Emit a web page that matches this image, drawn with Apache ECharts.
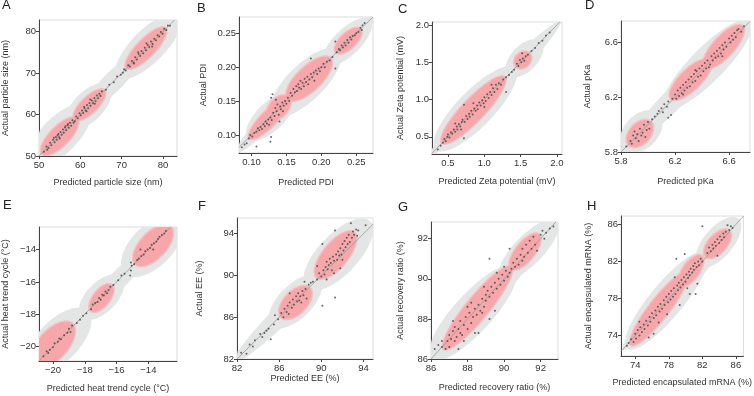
<!DOCTYPE html>
<html>
<head>
<meta charset="utf-8">
<script src="https://cdn.jsdelivr.net/npm/echarts@6/dist/echarts.min.js"></script>
<style>
html,body{margin:0;padding:0;background:#fff;}
#chart{width:754px;height:396px;}
</style>
</head>
<body>
<div id="chart"></div>
<script>
// panel titles and axis names
var letters = ['A', 'B', 'C', 'D', 'E', 'F', 'G', 'H'];
var xNames = ['Predicted particle size (nm)', 'Predicted PDI', 'Predicted Zeta potential (mV)', 'Predicted pKa',
	'Predicted heat trend cycle (°C)', 'Predicted EE (%)', 'Predicted recovery ratio (%)', 'Predicted encapsulated mRNA (%)'];
var yNames = ['Actual particle size (nm)', 'Actual PDI', 'Actual Zeta potential (mV)', 'Actual pKa',
	'Actual heat trend cycle (°C)', 'Actual EE (%)', 'Actual recovery ratio (%)', 'Actual encapsulated mRNA (%)'];

// axis ranges and tick labels
var xRanges = [[50, 83.4], [0.082, 0.274], [0.28, 2.07], [5.8, 6.755], [-20.88, -12.2], [82, 94.9], [86, 92.95], [72.3, 86.9]];
var yRanges = [[50, 82.8], [0.0735, 0.274], [0.27, 2.04], [5.8, 6.758], [-20.9, -12.6], [82, 95.5], [86, 92.83], [71.8, 86.9]];
var xTicks = [[50, 60, 70, 80], [0.10, 0.15, 0.20, 0.25], [0.5, 1.0, 1.5, 2.0], [5.8, 6.2, 6.6], [-20, -18, -16, -14], [82, 86, 90, 94], [86, 88, 90, 92], [74, 78, 82, 86]];
var yTicks = [[50, 60, 70, 80], [0.10, 0.15, 0.20, 0.25], [0.5, 1.0, 1.5, 2.0], [5.8, 6.2, 6.6], [-20, -18, -16, -14], [82, 86, 90, 94], [86, 88, 90, 92], [74, 78, 82, 86]];
var decimals = [0, 2, 1, 1, 0, 0, 0, 0];

// [predicted, actual]
var aPoints = [[51.2,51.0],[51.8,52.3],[52.3,51.9],[52.7,53.2],[53.0,52.6],[53.4,53.9],[53.8,53.3],[54.1,54.6],[54.3,53.9],[54.7,55.3],[54.9,54.5],[55.2,55.8],[55.5,55.1],[55.8,56.4],[56.0,55.6],[56.3,56.9],[56.6,56.2],[56.9,57.4],[57.2,56.8],[57.5,58.0],[57.8,57.3],[58.1,58.6],[58.4,58.0],[53.6,54.4],[55.0,54.2],[56.4,57.2],[52.0,51.5],[54.5,55.0],[57.0,57.7],[58.7,58.4],
	[59.0,59.5],[59.4,59.1],[59.8,60.3],[60.1,59.8],[60.4,61.0],[60.7,60.4],[61.0,61.6],[61.3,61.0],[61.6,62.3],[61.9,61.5],[62.2,62.8],[62.5,62.1],[62.8,63.4],[63.1,62.7],[63.4,64.0],[63.7,63.2],[64.0,64.6],[64.3,63.9],[64.6,65.0],[64.9,64.5],[65.2,65.6],[60.9,61.9],[62.4,63.6],[63.5,62.6],[61.5,60.8],
	[66.2,66.0],[67.0,67.2],[68.1,67.8],[68.9,69.2],[69.8,69.6],[70.6,70.9],[71.0,70.6],[70.3,70.1],
	[71.6,71.9],[72.0,71.6],[72.5,72.9],[72.9,72.5],[73.3,73.8],[73.7,73.3],[74.1,74.6],[74.5,74.1],[74.8,75.3],[75.2,74.8],[75.6,76.1],[75.9,75.5],[76.3,76.8],[76.7,76.3],[77.1,77.6],[77.5,77.0],[77.9,78.3],[78.3,77.9],[78.7,79.1],[79.1,78.8],[79.5,79.9],[79.9,79.5],[80.3,80.7],[80.8,80.4],[81.2,81.5],[81.7,81.4],[74.0,75.0],[76.0,77.2],[77.4,76.4],[73.0,72.3]];
var bPoints = [[0.086,0.082],[0.09,0.086],[0.093,0.088],[0.096,0.095],[0.098,0.1],[0.101,0.098],[0.104,0.103],[0.107,0.105],[0.107,0.083],[0.109,0.11],[0.111,0.107],[0.113,0.112],[0.115,0.109],[0.117,0.116],[0.119,0.113],[0.12,0.12],[0.122,0.117],[0.124,0.123],[0.125,0.115],[0.127,0.09],[0.128,0.097],[0.127,0.126],[0.129,0.122],[0.13,0.16],[0.128,0.155],[0.131,0.133],[0.133,0.128],[0.134,0.14],[0.135,0.152],[0.136,0.135],[0.137,0.145],[0.139,0.13],[0.14,0.12],[0.141,0.142],[0.142,0.138],[0.144,0.148],[0.145,0.135],[0.146,0.143],[0.148,0.15],[0.15,0.146],[0.152,0.155],[0.154,0.15],[0.156,0.162],[0.158,0.158],[0.16,0.168],[0.162,0.163],[0.164,0.172],[0.165,0.165],[0.167,0.175],[0.168,0.17],[0.17,0.18],[0.171,0.168],[0.173,0.177],[0.175,0.172],[0.176,0.183],[0.178,0.178],[0.18,0.186],[0.181,0.175],[0.183,0.182],[0.185,0.213],[0.185,0.19],[0.187,0.185],[0.189,0.192],[0.19,0.18],[0.192,0.195],[0.194,0.19],[0.196,0.198],[0.198,0.194],[0.2,0.2],[0.203,0.205],[0.205,0.2],[0.208,0.208],[0.212,0.21],[0.216,0.215],[0.22,0.238],[0.22,0.198],[0.222,0.222],[0.225,0.227],[0.227,0.225],[0.229,0.232],[0.231,0.229],[0.233,0.236],[0.235,0.232],[0.237,0.24],[0.239,0.236],[0.241,0.244],[0.243,0.241],[0.245,0.246],[0.248,0.247],[0.25,0.25],[0.253,0.252],[0.256,0.258],[0.259,0.262],[0.262,0.265],[0.258,0.255]];
var cPoints = [[0.36,0.33],[0.4,0.38],[0.43,0.42],[0.45,0.47],[0.47,0.44],[0.49,0.5],[0.5,0.53],[0.52,0.49],[0.54,0.56],[0.56,0.54],[0.58,0.6],[0.6,0.57],[0.62,0.64],[0.63,0.6],[0.65,0.67],[0.67,0.64],[0.69,0.7],[0.7,0.73],[0.72,0.93],[0.72,0.48],[0.73,0.7],[0.75,0.78],[0.77,0.74],[0.79,0.81],[0.8,0.77],[0.82,0.85],[0.84,0.8],[0.86,0.88],[0.88,0.85],[0.9,0.92],[0.91,0.87],[0.93,0.96],[0.95,0.92],[0.97,0.99],[0.99,0.95],[1.0,1.03],[1.02,0.98],[1.04,1.07],[1.06,1.02],[1.08,1.1],[1.1,1.06],[1.12,1.15],[1.14,1.1],[1.16,1.2],[1.18,1.14],[1.2,1.22],[1.23,1.2],[1.26,1.27],[1.3,1.1],[1.3,1.3],[1.34,1.33],[1.38,1.37],[1.41,1.4],[1.45,1.48],[1.47,1.45],[1.49,1.53],[1.51,1.5],[1.52,1.62],[1.53,1.55],[1.55,1.52],[1.57,1.58],[1.6,1.6],[1.65,1.65],[1.7,1.69],[1.75,1.76],[1.8,1.79],[1.85,1.86],[1.9,1.9],[0.85,0.95],[1.0,0.9],[0.68,0.6],[1.1,1.2],[0.6,0.68]];
var dPoints = [[5.84,5.84],[5.87,5.88],[5.88,5.86],[5.89,5.92],[5.9,5.95],[5.91,5.9],[5.92,5.93],[5.93,5.88],[5.94,5.97],[5.95,5.92],[5.96,5.94],[5.97,6.0],[5.98,5.91],[5.99,5.96],[6.0,6.02],[6.01,5.97],[6.03,6.04],[6.05,6.06],[6.07,6.08],[6.08,6.1],[6.1,6.12],[6.11,6.09],[6.12,6.15],[6.14,6.13],[6.15,6.17],[6.15,6.05],[6.17,6.07],[6.18,6.19],[6.2,6.22],[6.21,6.19],[6.22,6.25],[6.23,6.21],[6.24,6.27],[6.25,6.23],[6.26,6.29],[6.27,6.25],[6.28,6.31],[6.29,6.27],[6.3,6.33],[6.31,6.28],[6.32,6.35],[6.33,6.31],[6.34,6.37],[6.35,6.32],[6.36,6.39],[6.37,6.35],[6.38,6.41],[6.39,6.36],[6.4,6.43],[6.41,6.39],[6.42,6.45],[6.43,6.41],[6.44,6.47],[6.46,6.44],[6.47,6.5],[6.48,6.47],[6.49,6.52],[6.5,6.49],[6.51,6.54],[6.52,6.5],[6.53,6.56],[6.54,6.52],[6.55,6.58],[6.56,6.55],[6.57,6.6],[6.58,6.57],[6.6,6.63],[6.61,6.6],[6.62,6.65],[6.63,6.62],[6.64,6.67],[6.65,6.64],[6.66,6.69],[6.67,6.7],[6.69,6.68],[6.71,6.72],[6.26,6.22],[6.35,6.4],[6.45,6.42],[6.55,6.5]];
var ePoints = [[-20.6,-20.6],[-20.4,-20.3],[-20.2,-20.2],[-20.0,-20.05],[-19.9,-19.8],[-19.7,-19.7],[-19.5,-19.55],[-19.3,-19.3],[-19.1,-19.15],[-19.0,-18.9],[-18.9,-19.1],[-18.8,-18.7],[-18.5,-18.55],[-18.3,-18.35],[-18.1,-18.1],[-17.9,-17.95],[-17.6,-17.7],[-17.5,-17.4],[-17.35,-17.3],[-17.2,-17.25],[-17.1,-17.0],[-17.0,-17.1],[-16.9,-16.8],[-16.8,-16.85],[-16.7,-16.6],[-16.6,-16.7],[-16.5,-16.5],[-16.4,-16.3],[-16.2,-16.2],[-15.9,-15.9],[-15.7,-15.6],[-15.5,-15.5],[-15.15,-15.6],[-15.1,-15.3],[-15.05,-15.0],[-15.1,-14.8],[-14.9,-14.9],[-14.7,-14.65],[-14.6,-14.55],[-14.45,-14.4],[-14.3,-14.3],[-14.2,-14.1],[-14.05,-14.0],[-13.9,-13.9],[-13.8,-13.7],[-13.65,-13.6],[-13.5,-13.5],[-13.4,-13.35],[-13.3,-13.2],[-13.15,-13.1],[-13.0,-13.0],[-12.9,-12.85],[-14.5,-14.0],[-13.7,-14.0],[-19.6,-19.5],[-20.3,-20.4]];
var fPoints = [[82.4,82.6],[82.9,82.5],[83.2,83.4],[83.5,83.2],[83.7,83.8],[84.2,84.4],[84.4,84.1],[84.6,84.5],[84.8,84.7],[85.0,84.9],[85.2,83.9],[85.5,85.3],[85.6,86.2],[85.9,85.8],[86.2,86.4],[86.4,86.0],[86.5,86.8],[86.7,86.5],[86.8,87.1],[86.9,86.3],[87.0,87.4],[87.2,86.9],[87.3,87.7],[87.4,87.2],[87.6,88.0],[87.7,87.5],[87.8,88.3],[87.9,87.6],[88.0,88.0],[88.1,87.4],[88.2,88.5],[88.3,88.1],[88.5,88.7],[88.6,87.8],[88.8,89.1],[89.0,89.3],[89.2,89.4],[89.6,89.6],[89.8,90.2],[90.0,89.9],[90.1,93.0],[90.1,87.1],[90.2,90.5],[90.3,90.1],[90.4,90.8],[90.5,91.3],[90.6,90.6],[90.7,91.0],[90.8,91.6],[90.9,91.2],[91.0,90.5],[91.1,91.8],[91.2,91.4],[91.3,87.9],[91.3,94.3],[91.4,92.0],[91.5,91.5],[91.6,92.3],[91.7,91.9],[91.8,90.7],[91.8,92.6],[91.9,92.0],[92.0,93.0],[92.1,92.4],[92.2,93.3],[92.3,92.7],[92.4,93.6],[92.5,93.0],[92.6,93.9],[92.7,93.2],[92.8,95.0],[92.9,93.6],[93.0,94.2],[93.1,93.9],[93.3,94.4],[93.4,93.8],[93.5,94.3],[94.2,94.8],[89.6,90.9],[90.5,89.6],[91.2,90.2],[92.0,91.5],[87.0,88.3],[88.4,89.4]];
var gPoints = [[86.2,86.5],[86.4,86.7],[86.6,86.6],[86.8,86.5],[86.9,86.9],[87.0,87.2],[87.0,86.6],[87.1,87.0],[87.2,87.4],[87.3,86.9],[87.3,87.6],[87.4,87.1],[87.5,86.5],[87.5,87.5],[87.6,87.9],[87.7,87.2],[87.8,86.9],[87.8,87.7],[87.9,88.1],[88.0,87.5],[88.1,88.3],[88.2,88.8],[88.2,87.8],[88.3,88.1],[88.4,87.3],[88.4,88.5],[88.5,88.2],[88.6,87.3],[88.6,88.7],[88.7,88.4],[88.8,89.0],[88.9,88.6],[89.0,89.2],[89.0,88.9],[89.1,89.4],[89.2,91.0],[89.2,88.0],[89.2,89.1],[89.3,89.6],[89.4,89.3],[89.5,88.4],[89.5,89.8],[89.6,89.5],[89.7,90.0],[89.8,89.7],[89.9,90.2],[90.0,89.9],[90.1,90.4],[90.2,90.1],[90.3,91.5],[90.3,90.3],[90.4,90.5],[90.5,90.8],[90.6,90.6],[90.7,91.0],[90.8,90.7],[90.9,91.2],[91.0,90.9],[91.0,91.5],[91.1,91.1],[91.2,91.7],[91.3,91.3],[91.4,91.9],[91.5,91.5],[91.6,92.1],[91.7,91.7],[91.8,91.4],[92.0,92.2],[92.1,92.4],[92.3,92.3],[92.5,92.5],[92.7,92.6],[92.2,92.0],[87.2,87.9],[88.0,88.6],[88.8,88.3],[89.6,90.3],[90.0,90.6],[86.6,86.9],[87.6,87.3],[88.9,89.6]];
var hPoints = [[73.0,72.9],[73.2,73.2],[73.5,73.6],[73.8,73.3],[74.0,74.2],[74.1,73.7],[74.3,74.6],[74.5,74.0],[74.6,74.9],[74.8,74.4],[75.0,75.2],[75.1,74.7],[75.3,75.6],[75.5,75.1],[75.7,76.0],[75.8,75.5],[76.0,76.4],[76.2,74.2],[76.2,75.9],[76.4,76.7],[76.5,76.2],[76.7,77.1],[76.9,76.6],[77.0,77.4],[77.2,76.9],[77.4,77.8],[77.5,77.3],[77.7,78.2],[77.9,77.6],[78.0,78.5],[78.2,77.9],[78.3,78.8],[78.5,78.2],[78.6,79.1],[78.7,80.3],[78.8,78.5],[79.0,79.4],[79.1,78.9],[79.2,79.7],[79.3,77.3],[79.4,79.2],[79.5,80.0],[79.7,79.5],[79.8,80.3],[80.0,79.8],[80.1,80.6],[80.2,79.1],[80.3,80.2],[80.4,80.9],[80.5,80.5],[80.6,81.2],[80.8,80.8],[80.9,81.5],[81.0,81.1],[81.1,81.8],[81.2,78.5],[81.3,81.4],[81.5,82.0],[81.6,81.6],[81.8,82.3],[82.0,85.8],[82.0,82.0],[82.6,82.9],[82.8,83.5],[83.0,83.1],[83.2,83.8],[83.3,83.4],[83.5,84.1],[83.6,83.7],[83.8,84.4],[84.0,84.0],[84.1,84.7],[84.3,84.3],[84.5,85.0],[84.6,84.6],[84.8,85.2],[85.0,85.9],[85.2,85.4],[85.4,85.8],[85.6,85.6],[78.9,82.3],[79.9,82.8],[75.6,73.8],[76.8,75.4],[77.8,76.3],[80.5,78.5],[81.4,79.6],[74.5,75.5],[83.8,82.6]];

// density regions: [x1, y1, x2, y2, half width]
var aGray = [[48,48,62,62,4.4],[57,57,67,67,3.6],[62,62,74,74,2.4],[69,69,84,84,4.0]];
var aPink = [[50.8,50.5,59.2,59.0,2.3],[58.6,58.8,65.8,65.8,1.9],[71.2,71.2,80.6,80.8,2.1]];
var bGray = [[0.075,0.072,0.28,0.28,0.014],[0.095,0.095,0.16,0.16,0.02],[0.13,0.13,0.225,0.225,0.026],[0.205,0.205,0.27,0.27,0.019]];
var bPink = [[0.097,0.095,0.153,0.153,0.011],[0.125,0.125,0.153,0.156,0.013],[0.152,0.153,0.213,0.213,0.017],[0.221,0.222,0.256,0.256,0.011]];
var cGray = [[0.25,0.25,2.05,2.05,0.12],[0.33,0.33,1.42,1.42,0.25],[1.33,1.33,1.78,1.78,0.18]];
var cPink = [[0.42,0.42,1.28,1.3,0.15],[1.44,1.44,1.62,1.62,0.1]];
var dGray = [[5.78,5.78,6.78,6.78,0.08],[5.82,5.82,6.08,6.08,0.125],[6.12,6.12,6.76,6.76,0.125]];
var dPink = [[5.86,5.85,6.02,6.02,0.075],[6.17,6.19,6.46,6.47,0.075],[6.42,6.42,6.7,6.72,0.075]];
var eGray = [[-21,-21,-12,-12,0.57],[-21.5,-21.5,-17.8,-17.8,1.3],[-18.2,-18.2,-15.7,-15.7,0.95],[-15.5,-15.5,-12,-12,1.3]];
var ePink = [[-21.2,-21.2,-18.8,-18.6,0.9],[-17.6,-17.8,-16.3,-16.2,0.5],[-14.8,-14.9,-12.6,-12.6,0.8]];
var fGray = [[81.5,81.5,95,95,0.95],[85.3,85.2,89.8,89.8,1.6],[88.6,88.8,94.6,95.2,1.9]];
var fPink = [[86.2,86.0,88.9,88.8,1.05],[89.6,89.8,93.1,94.1,1.15]];
var gGray = [[85.8,85.8,93,93,0.6],[86,86,90.6,90.6,1.05],[89.8,90,92.9,92.9,0.8]];
var gPink = [[86.7,86.5,90.4,90.6,0.6],[90.4,90.5,91.9,92.2,0.5]];
var hGray = [[72.5,72.5,86.5,86.5,1.15],[73,72.6,82.5,83,2.0],[81.5,81.5,86.3,86.6,1.75]];
var hPink = [[73.5,73.0,80.2,80.8,1.15],[79.4,79.4,81.9,82.6,0.95],[82.4,82.5,85.2,85.3,1.05]];

var allPoints = [aPoints, bPoints, cPoints, dPoints, ePoints, fPoints, gPoints, hPoints];
var allGray = [aGray, bGray, cGray, dGray, eGray, fGray, gGray, hGray];
var allPink = [aPink, bPink, cPink, dPink, ePink, fPink, gPink, hPink];

// layout: grid [left, top, width, height], y name gap, x name gap
var rects = [[39,20,138,136],[239,17,134,136],[432,22,130,132],[621,21,129,131],
	[39,227,138,134],[237,218,136,141],[431,222,127,137],[621,216,126,140]];
var yGaps = [29, 31, 27, 29, 29, 33, 26, 28];
var xGaps = [22, 25, 23, 25, 23, 14, 24, 22];
var letterPos = [[2,-1],[197,2],[398,3],[585,-1],[3,199],[198,200],[398,201],[587,200]];

var FONT = 'Liberation Sans, Arial, sans-serif';

function blob(color, grow) {
	return function (params, api) {
		var p1 = api.coord([api.value(0), api.value(1)]);
		var p2 = api.coord([api.value(2), api.value(3)]);
		var w = api.size([api.value(4), 0])[0] + grow;
		var dx = p2[0] - p1[0], dy = p2[1] - p1[1];
		var len = Math.sqrt(dx * dx + dy * dy);
		var ux = dx / len, uy = dy / len;
		var a = len / 2 + grow;
		var cx = (p1[0] + p2[0]) / 2, cy = (p1[1] + p2[1]) / 2;
		var pts = [];
		for (var k = 0; k < 72; k++) {
			var t = k / 72 * 2 * Math.PI;
			var c = Math.cos(t) * a, s = Math.sin(t) * w;
			pts.push([cx + c * ux - s * uy, cy + c * uy + s * ux]);
		}
		var cs = params.coordSys;
		pts = echarts.graphic.clipPointsByRect(pts, {x: cs.x, y: cs.y, width: cs.width, height: cs.height});
		return {type: 'polygon', shape: {points: pts}, style: {fill: color}};
	};
}

var grids = [], xAxes = [], yAxes = [], series = [], graphics = [];

for (var i = 0; i < 8; i++) {
	var r = rects[i];
	grids.push({left: r[0], top: r[1], width: r[2], height: r[3], show: true, borderColor: '#dcdcdc', borderWidth: 1});
	(function (d) {
		var fmt = function (v) {
			var s = Math.abs(v).toFixed(d);
			return v < 0 ? '\u2212' + s : s;
		};
		xAxes.push({
			type: 'value', gridIndex: i, min: xRanges[i][0], max: xRanges[i][1],
			name: xNames[i], nameLocation: 'middle', nameGap: xGaps[i],
			nameTextStyle: {fontFamily: FONT, fontSize: 9, color: '#333'},
			axisLine: {show: true, onZero: false, lineStyle: {color: '#444', width: 1}},
			axisTick: {show: true, length: 3, lineStyle: {color: '#444'}, customValues: xTicks[i]},
			axisLabel: {fontFamily: FONT, fontSize: 9.5, color: '#333', margin: 4, customValues: xTicks[i], formatter: fmt},
			splitLine: {show: false}
		});
		yAxes.push({
			type: 'value', gridIndex: i, min: yRanges[i][0], max: yRanges[i][1],
			name: yNames[i], nameLocation: 'middle', nameGap: yGaps[i],
			nameTextStyle: {fontFamily: FONT, fontSize: 9, color: '#333'},
			axisLine: {show: true, onZero: false, lineStyle: {color: '#444', width: 1}},
			axisTick: {show: true, length: 3, lineStyle: {color: '#444'}, customValues: yTicks[i]},
			axisLabel: {fontFamily: FONT, fontSize: 9.5, color: '#333', margin: 3, customValues: yTicks[i], formatter: fmt},
			splitLine: {show: false}
		});
	})(decimals[i]);

	var lo = Math.max(xRanges[i][0], yRanges[i][0]);
	var hi = Math.min(xRanges[i][1], yRanges[i][1]);

	series.push({type: 'custom', xAxisIndex: i, yAxisIndex: i, renderItem: blob('#e4e6e6', 0), data: allGray[i], silent: true, clip: true, z: 1});
	series.push({type: 'custom', xAxisIndex: i, yAxisIndex: i, renderItem: blob('#f1c3c4', 1.5), data: allPink[i], silent: true, clip: true, z: 2});
	series.push({type: 'custom', xAxisIndex: i, yAxisIndex: i, renderItem: blob('#f7a7aa', 0), data: allPink[i], silent: true, clip: true, z: 3});
	series.push({type: 'line', xAxisIndex: i, yAxisIndex: i, data: [[lo, lo], [hi, hi]], symbol: 'none', silent: true,
		lineStyle: {color: '#999', width: 0.8}, z: 4});
	series.push({type: 'scatter', xAxisIndex: i, yAxisIndex: i, data: allPoints[i], symbolSize: 2, silent: true,
		itemStyle: {color: '#444', opacity: 0.8}, z: 5});

	graphics.push({type: 'text', left: letterPos[i][0], top: letterPos[i][1],
		style: {text: letters[i], fontFamily: FONT, fontSize: 13, fill: '#222'}});
}

var dom = document.getElementById('chart');
var myChart = echarts.init(dom, null, {renderer: 'canvas'});
var option = {
	animation: false,
	backgroundColor: '#fff',
	grid: grids,
	xAxis: xAxes,
	yAxis: yAxes,
	series: series,
	graphic: graphics
};
myChart.setOption(option, true);
</script>
</body>
</html>
